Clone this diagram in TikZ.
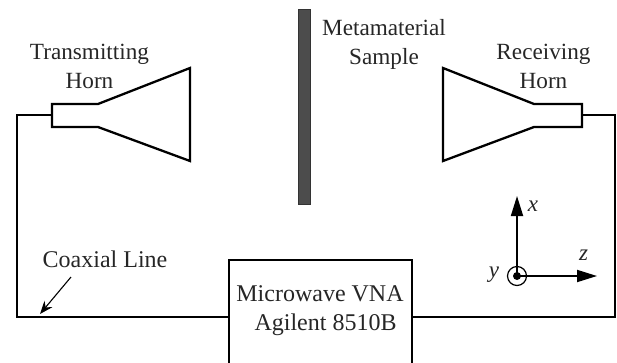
\documentclass[tikz,border=0pt]{standalone}
\usepackage{fontspec}
\setmainfont{Liberation Serif}
\usetikzlibrary{arrows,arrows.meta,positioning}
\tikzset{
  %Define standard arrow tip
  >=stealth',
  %Define style for labels
  lbl/.style={
    inner sep=0pt,
    text=black!85,
    align=center,
    font=\fontsize{23.2}{29.5}\selectfont},
  biglbl/.style={
    lbl,
    font=\fontsize{24}{29.5}\selectfont},
  axlbl/.style={
    inner sep=0pt,
    text=black!85,
    font=\fontsize{23}{28}\selectfont\itshape},
  %Define style for horns and cables
  wire/.style={
    draw=black,
    line width=2.3pt,
    line join=miter},
  % Define arrow style
  axis/.style={
    -{Triangle[length=20pt,width=12pt]},
    line width=1.8pt}
}

\begin{document}
\begin{tikzpicture}[x=1pt,y=-1pt]
      \useasboundingbox (0,0) rectangle (617,363);
      \clip (0,0) rectangle (617,363);
      % horns
      \draw[wire] (52,104) -- (98,104) -- (190,68) -- (190,161) -- (98,127) -- (52,127) -- cycle;
      \draw[wire] (582,104) -- (534,104) -- (443,68) -- (443,161) -- (534,127) -- (582,127) -- cycle;
      \coordinate (tport) at (52,115);
      \coordinate (rport) at (582,115);
      \coordinate (tbend) at (17,115);
      \coordinate (rbend) at (615,115);
      % sample and analyser
      \node[draw=black!80,fill=black!70,line width=1pt,minimum width=12pt,minimum height=195pt,inner sep=0pt] (sample) at (304.5,107) {};
      \node[wire,fill=white,minimum width=183pt,minimum height=160pt,inner sep=0pt] (vna) at (320.5,340) {};
      \coordinate (lcorner) at (17,317);
      \coordinate (rcorner) at (615,317);
      \coordinate (lport) at (229,317);
      \coordinate (rgate) at (412,317);
      \draw[wire] (tport) -- (tbend) -- (lcorner) -- (lport);
      \draw[wire] (rport) -- (rbend) -- (rcorner) -- (rgate);
      % labels
      \node[lbl] (ttext) at (89.5,66.5) {Transmitting\\Horn};
      \node[lbl] (stext) at (384,44.5) {Metamaterial\\Sample};
      \node[lbl] (rtext) at (543.5,66.5) {Receiving\\Horn};
      \node[biglbl] (coax) at (105,259) {Coaxial Line};
      \node[biglbl] (vnaa) at (320,294) {Microwave VNA};
      \node[biglbl] (vnab) at (325.5,325) {Agilent 8510B};
      \coordinate (ctip) at (40,314);
      \draw[-{Stealth[length=13pt,width=10pt]},line width=1.1pt] (71,277) -- (ctip);
      % axes
      \node[circle,draw=black,line width=1.2pt,minimum size=19pt,inner sep=0pt] (orig) at (517,276) {};
      \node[circle,fill=black,minimum size=8pt,inner sep=0pt] (dot) at (orig) {};
      \coordinate (xend) at (517,196);
      \coordinate (zend) at (597,276);
      \draw[axis] (orig.center) -- (xend);
      \draw[axis] (orig.center) -- (zend);
      \node[axlbl] (xl) at (533,206) {x};
      \node[axlbl] (zl) at (583.5,255) {z};
      \node[axlbl] (yl) at (494,275) {y};
    \end{tikzpicture}
\end{document}
